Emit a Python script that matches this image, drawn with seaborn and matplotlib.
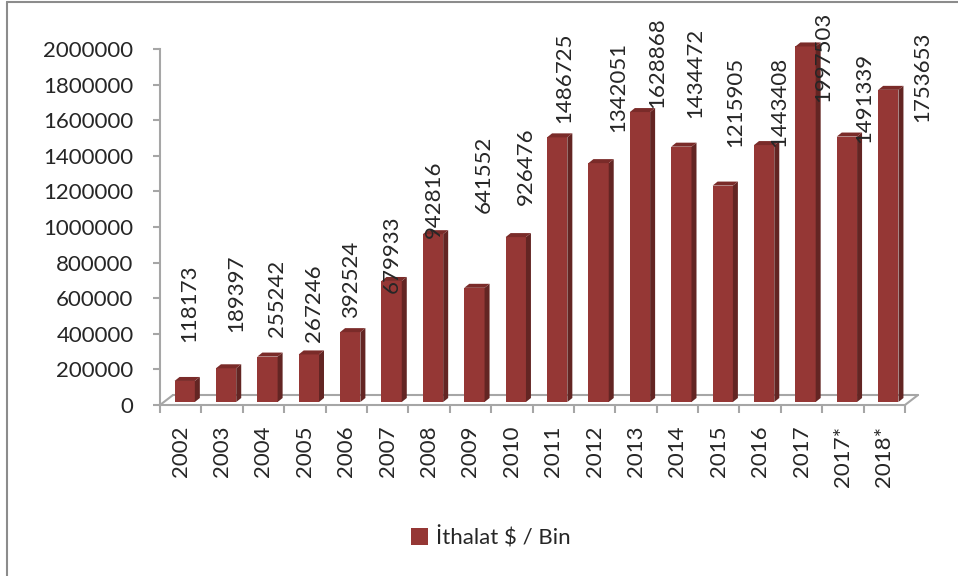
import numpy as np
import pandas as pd
import matplotlib
matplotlib.use("Agg")
import matplotlib.pyplot as plt
from matplotlib import ticker
from matplotlib.patches import Polygon
from matplotlib.lines import Line2D
import seaborn as sns

# data
years = ["2002", "2003", "2004", "2005", "2006", "2007", "2008", "2009", "2010",
         "2011", "2012", "2013", "2014", "2015", "2016", "2017", "2017*", "2018*"]
imports = [118173, 189397, 255242, 267246, 392524, 679933, 942816, 641552, 926476,
           1486725, 1342051, 1628868, 1434472, 1215905, 1443408, 1997503, 1491339, 1753653]
series_name = "İthalat $ / Bin"

# where Excel dropped each value label, pixels from the bar top
label_dx = [9, 14, 14, 9, 5, 4, 5, 13, 14, 11, 24, 21, 18, 16, 19, 22, 21, 38]
label_dy = [42, 39, 23, 15, 17, -9, -1, 78, 35, 17, 34, 7, 32, 42, 1, -53, -3, -29]

df = pd.DataFrame({"Yil": years, "Ithalat": imports})

front = "#953735"
side = "#632523"
top = "#7a2b29"
grey = "#a6a6a6"

sns.set_style("white")
plt.rcParams["font.family"] = ["Lato", "DejaVu Sans"]

W, H = 958, 576
fig = plt.figure(figsize=(W / 100, H / 100), dpi=100)
ax = fig.add_axes([160 / W, 171 / H, 745 / W, 356 / H])

sns.barplot(data=df, x="Yil", y="Ithalat", color=front, saturation=1, width=0.49,
            linewidth=0, label=series_name, ax=ax, zorder=3)
ax.set_xlim(-0.5, len(years) - 0.5)
ax.set_ylim(0, 2000000)

to_px = ax.transData.transform
to_data = ax.transData.inverted().transform


def shift(pts, dx, dy):
    return to_data(to_px(pts) + np.array([dx, dy]))


# floor of the 3d box
fx0, fx1 = -0.5, len(years) - 0.5
floor = np.array([[fx0, 0], [fx1, 0]])
back = shift(floor, 13, 10)
ax.plot(back[:, 0], back[:, 1], color=grey, lw=1.5, clip_on=False, zorder=1)
for k in range(2):
    seg = np.array([floor[k], back[k]])
    ax.plot(seg[:, 0], seg[:, 1], color=grey, lw=1.5, clip_on=False, zorder=1)

# 3d look for the bars
bdx, bdy = 5, 4
for p in ax.patches[:len(years)]:
    x0, w, h = p.get_x(), p.get_width(), p.get_height()
    corners = shift(np.array([[x0, 0], [x0 + w, h]]), 4, 3)
    p.set_x(corners[0, 0])
    p.set_y(corners[0, 1])
    p.set_width(corners[1, 0] - corners[0, 0])
    p.set_height(corners[1, 1] - corners[0, 1])
    p.set_clip_on(False)
    (X0, Y0), (X1, Y1) = to_px(corners)
    side_px = [[X1, Y0], [X1 + bdx, Y0 + bdy], [X1 + bdx, Y1 + bdy], [X1, Y1]]
    top_px = [[X0, Y1], [X1, Y1], [X1 + bdx, Y1 + bdy], [X0 + bdx, Y1 + bdy]]
    ax.add_patch(Polygon(to_data(side_px), closed=True, fc=side, ec="none",
                         zorder=3, clip_on=False))
    ax.add_patch(Polygon(to_data(top_px), closed=True, fc=top, ec="none",
                         zorder=3, clip_on=False))

# value labels
for i, v in enumerate(imports):
    ax.annotate(str(v), xy=(i, v), xytext=(label_dx[i] * 0.72, label_dy[i] * 0.72),
                textcoords="offset points", rotation=90, ha="center", va="bottom",
                fontsize=16, annotation_clip=False, zorder=5)

# axes styling
for s in ["top", "right"]:
    ax.spines[s].set_visible(False)
for s in ["left", "bottom"]:
    ax.spines[s].set_color(grey)
    ax.spines[s].set_linewidth(1.5)

ax.set_yticks(np.arange(0, 2000001, 200000))
ax.yaxis.set_major_formatter(ticker.StrMethodFormatter("{x:.0f}"))
ax.tick_params(axis="y", direction="out", length=5, width=1.5, color=grey,
               pad=14, labelsize=16, left=True)

ax.set_xticks(np.arange(len(years) + 1) - 0.5)
ax.set_xticklabels([])
ax.set_xticks(np.arange(len(years)), minor=True)
ax.set_xticklabels(years, minor=True, rotation=90)
ax.tick_params(axis="x", which="major", direction="out", length=6, width=1.5,
               color=grey, bottom=True)
ax.tick_params(axis="x", which="minor", length=0, pad=15, labelsize=16)
ax.set_xlabel("")
ax.set_ylabel("")

# legend
handles, labels = ax.get_legend_handles_labels()
if ax.get_legend() is not None:
    ax.get_legend().remove()
fig.legend(handles, labels, loc="center", bbox_to_anchor=(491 / W, 1 - 537 / H),
           frameon=False, fontsize=16, handlelength=0.75, handleheight=0.75,
           handletextpad=0.4)

# chart area frame (only left and top visible in the crop)
fig.add_artist(Line2D([7 / W, 7 / W], [0, 1 - 2 / H], color="#8c8c8c", lw=1.5))
fig.add_artist(Line2D([7 / W, 1], [1 - 2 / H, 1 - 2 / H], color="#8c8c8c", lw=1.5))

fig.savefig("out.png", dpi=100)
